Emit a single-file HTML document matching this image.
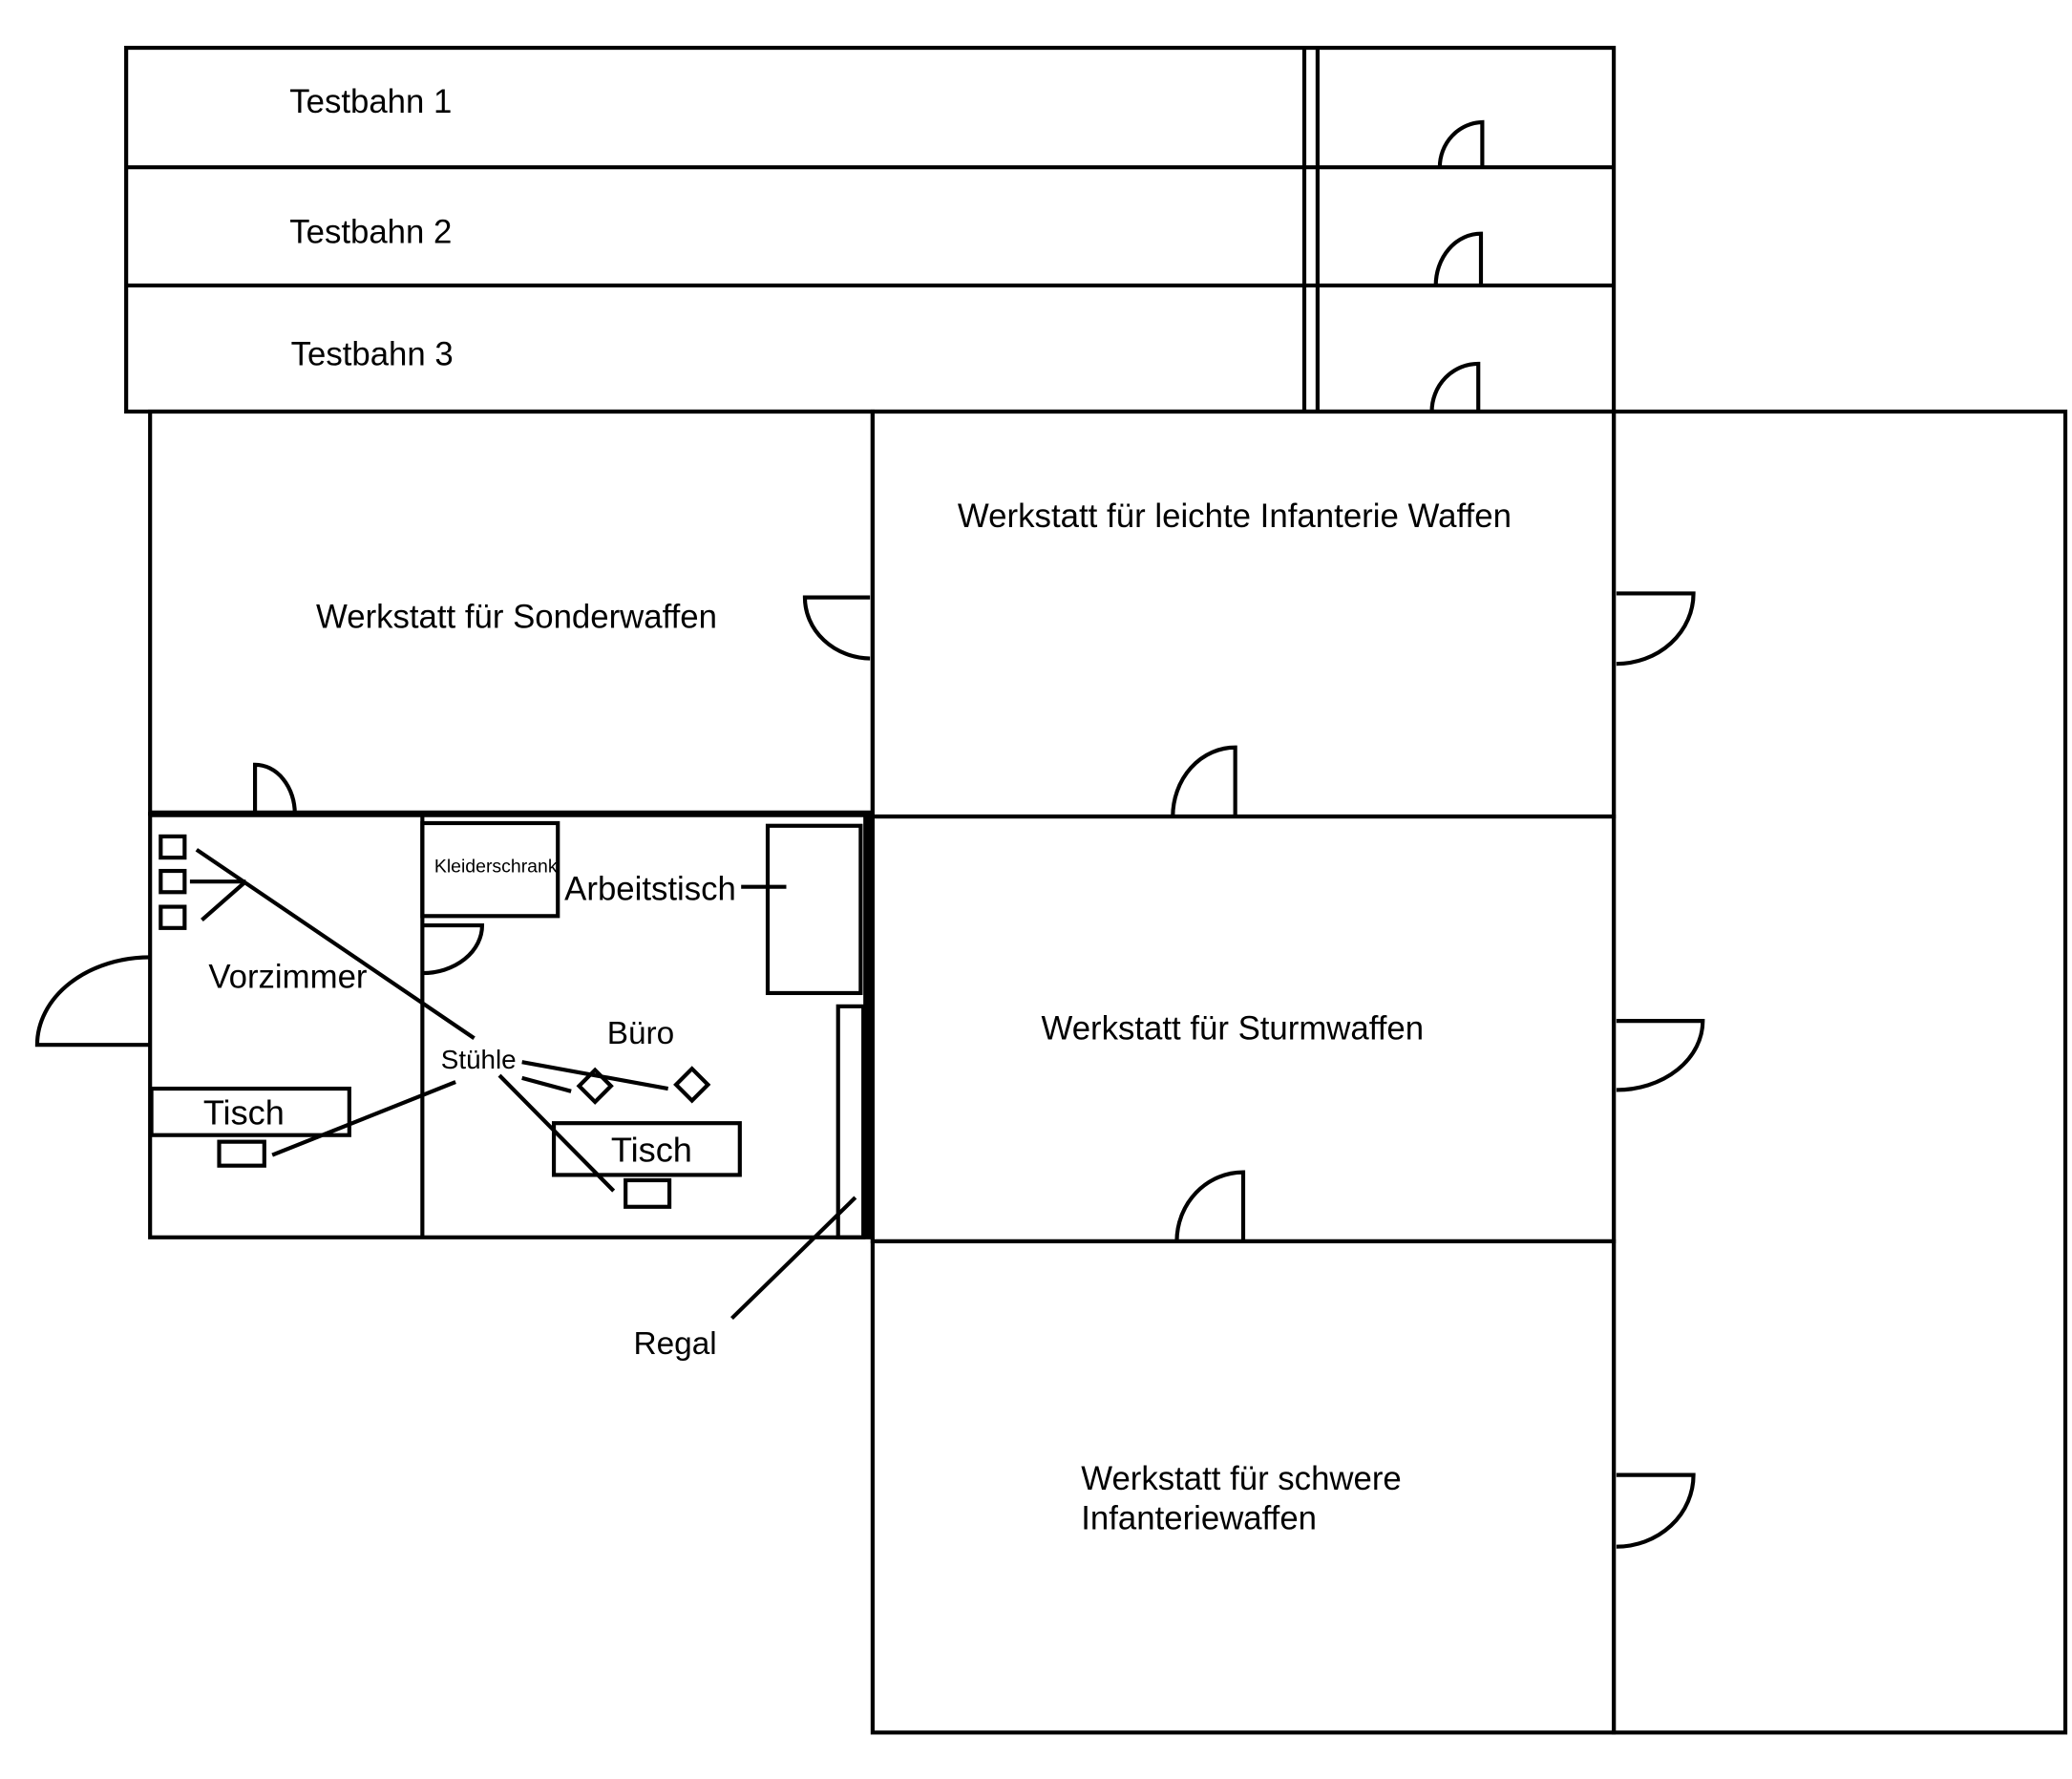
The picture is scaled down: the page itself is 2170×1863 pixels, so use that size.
<!DOCTYPE html>
<html><head><meta charset="utf-8"><style>html,body{margin:0;padding:0;background:#fff}svg{display:block}</style></head><body>
<svg width="2170" height="1863" viewBox="0 0 1560 1340" preserveAspectRatio="none" xmlns="http://www.w3.org/2000/svg">
<g fill="none" stroke="#000" stroke-width="3">
<rect x="95" y="36" width="1120" height="274"/>
<line x1="95" y1="126" x2="1215" y2="126"/>
<line x1="95" y1="215" x2="1215" y2="215"/>
<line x1="982" y1="36" x2="982" y2="310"/>
<line x1="992" y1="36" x2="992" y2="310"/>
<path d="M1116,126 V92 A33,34 0 0 0 1084,126"/>
<path d="M1115,215 V176 A34,39 0 0 0 1081,215"/>
<path d="M1113,310 V274 A35,36 0 0 0 1078,310"/>
<rect x="113" y="310" width="544" height="303"/>
<rect x="657" y="310" width="558" height="305"/>
<rect x="657" y="615" width="558" height="320"/>
<rect x="657" y="935" width="558" height="370"/>
<rect x="1215" y="310" width="340" height="995"/>
<rect x="113" y="613" width="544" height="319"/>
<line x1="113" y1="613" x2="657" y2="613" stroke-width="5"/>
<line x1="653" y1="613" x2="653" y2="932" stroke-width="6"/>
<path d="M655,450 H606 A50,46 0 0 0 655,496"/>
<path d="M192,613 V576 A30,37 0 0 1 222,613"/>
<path d="M930,615 V563 A47,52 0 0 0 883,615"/>
<path d="M1217,447 H1275 A58,53 0 0 1 1217,500"/>
<path d="M1217,769 H1282 A65,52 0 0 1 1217,821"/>
<path d="M936,935 V883 A50,52 0 0 0 886,935"/>
<path d="M1217,1111 H1275 A58,54 0 0 1 1217,1165"/>
<path d="M113,787 H28 A85,66 0 0 1 113,721"/>
<path d="M318,697 H363 A45,36 0 0 1 318,733"/>
<line x1="318" y1="613" x2="318" y2="932"/>
<rect x="318" y="620" width="102" height="70"/>
<rect x="578" y="622" width="70" height="126"/>
<line x1="558" y1="668" x2="592" y2="668"/>
<rect x="631" y="758" width="19" height="174"/>
<line x1="644" y1="902" x2="551" y2="993"/>
<rect x="121" y="630" width="18" height="16"/>
<rect x="121" y="656" width="18" height="16"/>
<rect x="121" y="683" width="18" height="16"/>
<line x1="148" y1="640" x2="357" y2="782"/>
<line x1="143" y1="664" x2="185" y2="664"/>
<line x1="152" y1="693" x2="185" y2="664"/>
<rect x="114" y="820" width="149" height="35"/>
<rect x="165" y="860" width="34" height="18"/>
<line x1="205" y1="870" x2="343" y2="815"/>
<line x1="393" y1="800" x2="503" y2="820"/>
<line x1="393" y1="812" x2="430" y2="822"/>
<path d="M448,806 L460,818 L448,830 L436,818 Z"/>
<path d="M521,805 L533,817 L521,829 L509,817 Z"/>
<line x1="376" y1="810" x2="462" y2="897"/>
<rect x="417" y="846" width="140" height="39"/>
<rect x="471" y="889" width="33" height="20"/>
</g>
<g font-family="Liberation Sans, sans-serif" font-size="25" fill="#000">
<text x="218" y="85">Testbahn 1</text>
<text x="218" y="183">Testbahn 2</text>
<text x="219" y="275">Testbahn 3</text>
<text x="238" y="473">Werkstatt für Sonderwaffen</text>
<text x="721" y="397" textLength="417" lengthAdjust="spacingAndGlyphs">Werkstatt für leichte Infanterie Waffen</text>
<text x="784" y="783">Werkstatt für Sturmwaffen</text>
<text x="814" y="1122">Werkstatt für schwere</text>
<text x="814" y="1152">Infanteriewaffen</text>
<text x="157" y="744">Vorzimmer</text>
<text x="457" y="786" font-size="24">Büro</text>
<text x="425" y="678" font-size="25">Arbeitstisch</text>
<text x="153" y="847" font-size="26">Tisch</text>
<text x="460" y="875" font-size="26">Tisch</text>
<text x="477" y="1020" font-size="24">Regal</text>
<text x="332" y="805" font-size="20">Stühle</text>
<text x="327" y="657" font-size="14">Kleiderschrank</text>
</g>
</svg>
</body></html>
